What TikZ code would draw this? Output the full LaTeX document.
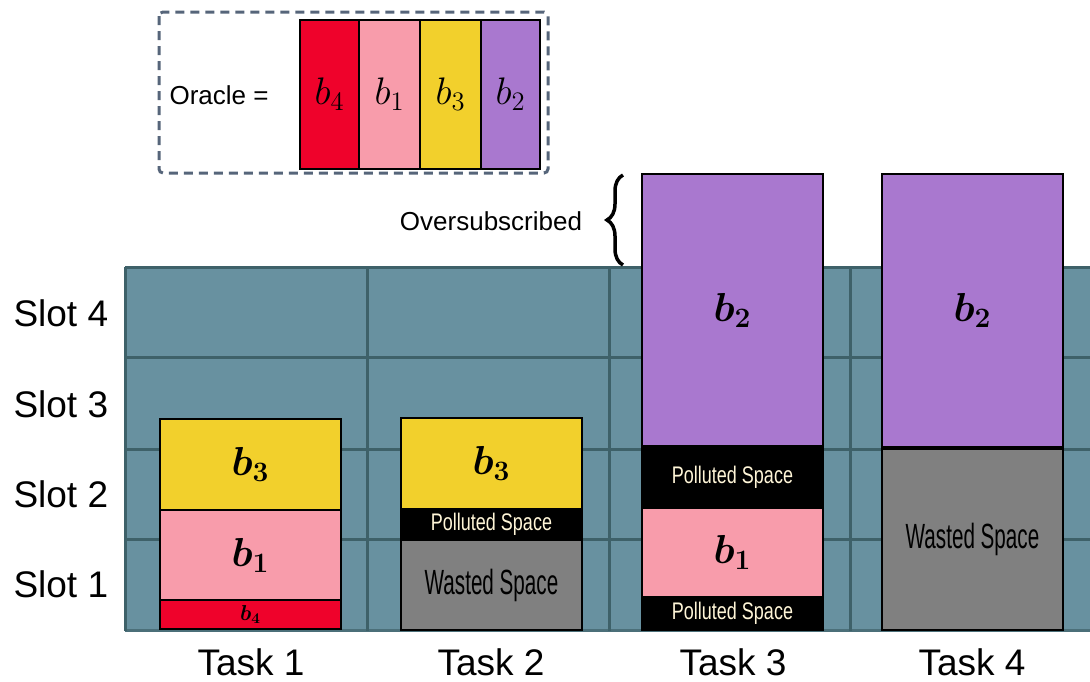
\documentclass[tikz,border=0pt]{standalone}
\usepackage{fontspec}
\setmainfont{Liberation Sans}
\usepackage{bm}
\usetikzlibrary{decorations.pathreplacing}
\definecolor{cRed}{HTML}{EF022B}
\definecolor{cPink}{HTML}{F89CAB}
\definecolor{cYellow}{HTML}{F2D02C}
\definecolor{cPurple}{HTML}{A978CF}
\definecolor{cGray}{HTML}{808080}
\definecolor{gridFill}{HTML}{6891A0}
\definecolor{gridLine}{HTML}{3E6169}
\definecolor{dashCol}{HTML}{56657A}
\definecolor{cream}{HTML}{FFF6D8}
\tikzset{
  blk/.style={draw=black, line width=2pt, anchor=north west, inner sep=0pt, minimum width=181pt},
  oblk/.style={draw=black, line width=2pt, anchor=north west, inner sep=0pt, minimum height=149pt},
  pol/.style={blk, fill=black, text=cream, font=\fontsize{24}{26}\selectfont},
  wst/.style={blk, fill=cGray, text=black, font=\fontsize{35}{38}\selectfont},
  axlab/.style={font=\fontsize{37}{40}\selectfont},
  midlab/.style={font=\fontsize{26}{30}\selectfont},
  gridl/.style={draw=gridLine, line width=3pt},
}
\newcommand{\bigb}[1]{\scalebox{1.95}{\fontsize{20.74}{24}\selectfont$\bm{#1}$}}
\newcommand{\orb}[1]{\scalebox{1.85}{\fontsize{20.74}{24}\selectfont$#1$}}
\newcommand{\smallb}[1]{\scalebox{1.5}{\fontsize{14.4}{17}\selectfont$\bm{#1}$}}
\newcommand{\pspace}{\scalebox{0.75}[1]{Polluted Space}}
\newcommand{\wspace}{\scalebox{0.59}[1]{Wasted Space}}
\begin{document}
\begin{tikzpicture}[x=1pt,y=-1pt]
\useasboundingbox (0,0) rectangle (1090,681);
% grid
\fill[gridFill] (125,267) rectangle (1090,630);
\foreach \yy in {267,357,449,539} \draw[gridl] (125,\yy) -- (1090,\yy);
\draw[draw=gridLine!70!gridFill, line width=3pt] (125,630) -- (1090,630);
\foreach \xx in {125,367,609,850} \draw[gridl] (\xx,267) -- (\xx,631);
% oracle
\draw[dashCol, line width=3pt, dash pattern=on 9pt off 6pt, rounded corners=4pt] (159,12) rectangle (548,173);
\node[anchor=west, midlab] (orac) at (166,95) {Oracle =};
\node[oblk, fill=cRed, minimum width=59pt] (o4) at (299,19) {};
\node[oblk, fill=cPink, minimum width=61pt] (o1) at (358,19) {};
\node[oblk, fill=cYellow, minimum width=61pt] (o3) at (419,19) {};
\node[oblk, fill=cPurple, minimum width=59pt] (o2) at (480,19) {};
\node at (o4.center) {\orb{b_4}};
\node at (o1.center) {\orb{b_1}};
\node at (o3.center) {\orb{b_3}};
\node at (o2.center) {\orb{b_2}};
% task 1
\node[blk, fill=cYellow, minimum height=91pt] (t1b3) at (159,418) {};
\node[blk, fill=cPink, minimum height=90pt] (t1b1) at (159,509) {};
\node[blk, fill=cRed, minimum height=29pt] (t1b4) at (159,599) {};
\node at (t1b3.center) {\bigb{b_3}};
\node at (t1b1.center) {\bigb{b_1}};
\node at (t1b4.center) {\smallb{b_4}};
% task 2
\node[blk, fill=cYellow, minimum height=91pt] (t2b3) at (400,417) {};
\node[pol, minimum height=31pt] (t2p) at (400,508) {\pspace};
\node[wst, minimum height=90pt] (t2w) at (400,539) {\wspace};
\node at (t2b3.center) {\bigb{b_3}};
% task 3
\node[blk, fill=cPurple, minimum height=272pt] (t3b2) at (641,173) {};
\node[pol, minimum height=62pt] (t3p1) at (641,445) {\pspace};
\node[blk, fill=cPink, minimum height=89pt] (t3b1) at (641,507) {};
\node[pol, minimum height=33pt] (t3p2) at (641,596) {\pspace};
\node at (t3b2.center) {\bigb{b_2}};
\node at (t3b1.center) {\bigb{b_1}};
% task 4
\node[blk, fill=cPurple, minimum height=273pt] (t4b2) at (881,173) {};
\node[wst, minimum height=181pt] (t4w) at (881,448) {\wspace};
\node at (t4b2.center) {\bigb{b_2}};
% oversubscribed
\node[midlab] (over) at (491,221) {Oversubscribed};
\coordinate (brB) at (623,265);
\coordinate (brT) at (623,175);
\draw[decorate, decoration={brace, amplitude=16pt}, line width=3.5pt] (brB) -- (brT);
% slot labels
\node[axlab, anchor=west] (s4) at (10,313) {Slot 4};
\node[axlab, anchor=west] (s3) at (10,404) {Slot 3};
\node[axlab, anchor=west] (s2) at (10,494) {Slot 2};
\node[axlab, anchor=west] (s1) at (10,584) {Slot 1};
% task labels
\node[axlab] (k1) at (251,662) {Task 1};
\node[axlab] (k2) at (491,662) {Task 2};
\node[axlab] (k3) at (733,662) {Task 3};
\node[axlab] (k4) at (972,662) {Task 4};
\end{tikzpicture}
\end{document}
